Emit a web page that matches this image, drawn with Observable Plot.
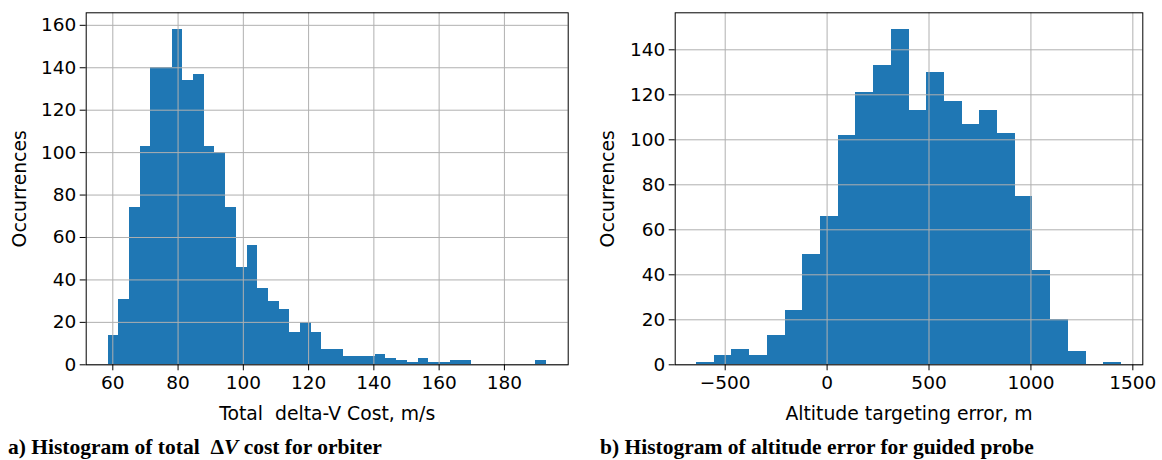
<!DOCTYPE html>
<html>
<head>
<meta charset="utf-8">
<script src="https://cdn.jsdelivr.net/npm/d3@7"></script>
<script src="https://cdn.jsdelivr.net/npm/@observablehq/plot@0.6"></script>
<style>
  html, body { margin: 0; padding: 0; background: #fff; }
  #page { position: relative; width: 1162px; height: 460px; overflow: hidden; }
  .panel { position: absolute; top: 0; }
  .caption {
    position: absolute;
    font-family: "Liberation Serif", "Times New Roman", serif;
    font-weight: bold;
    font-size: 21.5px;
    line-height: 21px;
    white-space: pre;
    color: #000;
  }
</style>
</head>
<body>
<div id="page">
  <div class="panel" id="left" style="left:0px"></div>
  <div class="panel" id="right" style="left:580px"></div>
  <div class="caption" id="capA" style="left:8px; top:437px"></div>
  <div class="caption" id="capB" style="left:600px; top:437px"></div>
</div>
<script>
// ---- Orbiter: total delta-V cost histogram (1500 runs) ----
const dvBinStart = 58.56;     // lower edge of first bin, m/s
const dvBinWidth = 3.275;     // bin width, m/s
const dvCounts = [14, 31, 74, 103, 140, 140, 158, 134, 137, 103,
                  100, 74, 46, 56, 36, 30, 26, 15, 20, 15,
                  7, 7, 4, 4, 4, 5, 3, 2, 1, 3,
                  1, 1, 2, 2, 0, 0, 0, 0, 0, 0, 2];
const dvTicksX = [60, 80, 100, 120, 140, 160, 180];
const dvTicksY = [0, 20, 40, 60, 80, 100, 120, 140, 160];

// ---- Guided probe: altitude targeting error histogram (1500 runs) ----
const altBinStart = -641;     // lower edge of first bin, m
const altBinWidth = 86.9;     // bin width, m
const altCounts = [1, 4, 7, 4, 13, 24, 49, 66, 102, 121, 133, 149,
                   113, 130, 117, 107, 113, 103, 75, 42, 20, 6, 0, 1];
const altTicksX = [-500, 0, 500, 1000, 1500];
const altTicksY = [0, 20, 40, 60, 80, 100, 120, 140];

const xLabelA = "Total\u00a0 delta-V Cost, m/s";
const xLabelB = "Altitude targeting error, m";
const yLabel = "Occurrences";

const barColor = "#1f77b4";
const gridColor = "#b0b0b0";
const tickFont = 18.5;
const labelFont = 18.8;

// plain numbers, true minus sign, no thousands separator
const fmt = d => (d < 0 ? "\u2212" + Math.abs(d) : String(d));

// build bin table: [x1, x2, count]
function bins(start, width, counts) {
  return counts.map((c, i) => ({x1: start + i * width, x2: start + (i + 1) * width, count: c}));
}

// matplotlib-style limits: 5% padding on x
function paddedX(start, width, n) {
  const lo = start, hi = start + n * width, pad = 0.05 * (hi - lo);
  return [lo - pad, hi + pad];
}

function histogram({data, xDomain, yDomain, xTicks, yTicks, xLabel, width, marginLeft, marginRight, labelDx}) {
  return Plot.plot({
    width,
    height: 430,
    marginLeft,
    marginRight,
    marginTop: 12.3,
    marginBottom: 65.7,
    style: {fontFamily: "DejaVu Sans", fontSize: tickFont + "px", color: "#000", background: "transparent", overflow: "visible"},
    x: {domain: xDomain},
    y: {domain: yDomain},
    marks: [
      Plot.rect(data, {x1: "x1", x2: "x2", y1: 0, y2: "count", fill: barColor, shapeRendering: "crispEdges"}),
      Plot.gridX(xTicks, {stroke: gridColor, strokeOpacity: 1, strokeWidth: 1}),
      Plot.gridY(yTicks, {stroke: gridColor, strokeOpacity: 1, strokeWidth: 1}),
      Plot.frame({stroke: "#000", strokeWidth: 1}),
      Plot.axisX(xTicks, {tickSize: 6, tickPadding: 5, label: null, tickFormat: fmt, fontSize: tickFont}),
      Plot.axisY(yTicks, {tickSize: 6, tickPadding: 4, label: null, tickFormat: fmt, fontSize: tickFont}),
      Plot.text([xLabel], {frameAnchor: "bottom", textAnchor: "middle", lineAnchor: "middle", dy: 49, fontSize: labelFont}),
      Plot.text([yLabel], {frameAnchor: "left", textAnchor: "middle", lineAnchor: "middle", rotate: -90, dx: labelDx, fontSize: labelFont})
    ]
  });
}

const dvData = bins(dvBinStart, dvBinWidth, dvCounts);
const altData = bins(altBinStart, altBinWidth, altCounts);

document.getElementById("left").append(histogram({
  data: dvData,
  xDomain: paddedX(dvBinStart, dvBinWidth, dvCounts.length),
  yDomain: [0, d3.max(dvCounts) * 1.05],
  xTicks: dvTicksX,
  yTicks: dvTicksY,
  xLabel: xLabelA,
  width: 580,
  marginLeft: 85.7,
  marginRight: 12.3,
  labelDx: -66
}));

document.getElementById("right").append(histogram({
  data: altData,
  xDomain: paddedX(altBinStart, altBinWidth, altCounts.length),
  yDomain: [0, d3.max(altCounts) * 1.05],
  xTicks: altTicksX,
  yTicks: altTicksY,
  xLabel: xLabelB,
  width: 582,
  marginLeft: 94.7,
  marginRight: 19.7,
  labelDx: -67
}));

// panel captions
const capA = document.getElementById("capA");
capA.append("a) Histogram of total  \u0394");
const v = document.createElement("i");
v.textContent = "V";
capA.append(v, " cost for orbiter");
document.getElementById("capB").textContent = "b) Histogram of altitude error for guided probe";
</script>
</body>
</html>
